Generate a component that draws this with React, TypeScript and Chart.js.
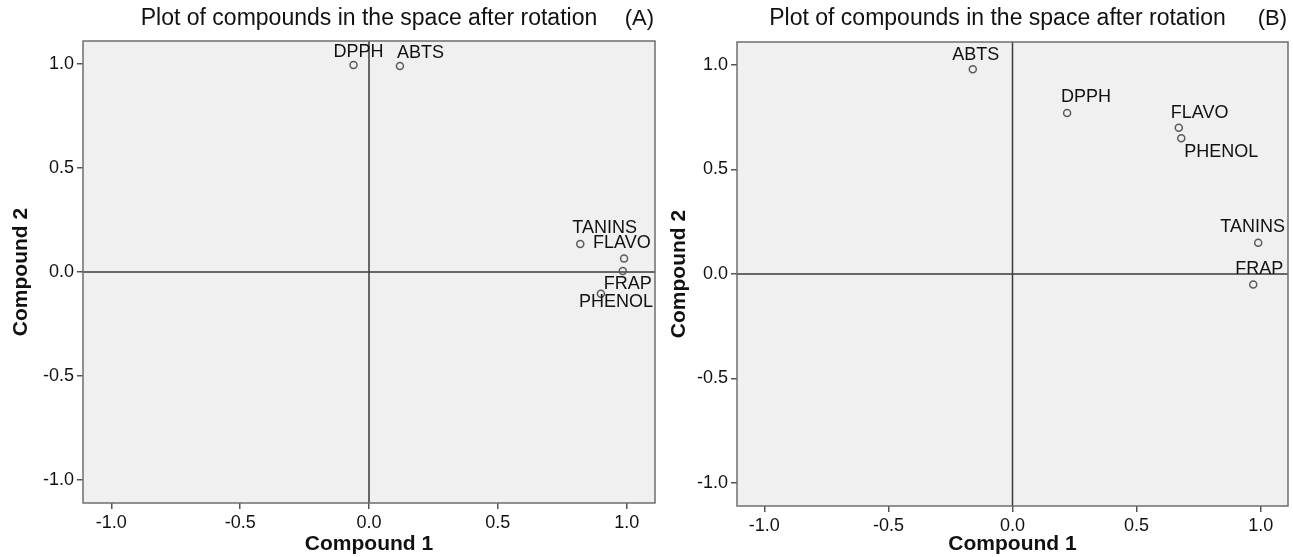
import React, { useEffect, useRef } from "react";
import { Chart, registerables } from "chart.js";

Chart.register(...registerables);

// ---- data ----
const namesA = ["DPPH", "ABTS", "TANINS", "FLAVO", "FRAP", "PHENOL"];
const compound1A = [-0.06, 0.12, 0.82, 0.99, 0.985, 0.9];
const compound2A = [0.995, 0.99, 0.135, 0.065, 0.005, -0.105];

const namesB = ["ABTS", "DPPH", "FLAVO", "PHENOL", "TANINS", "FRAP"];
const compound1B = [-0.16, 0.22, 0.67, 0.68, 0.99, 0.97];
const compound2B = [0.98, 0.77, 0.7, 0.65, 0.15, -0.05];

const tickValues = [-1.0, -0.5, 0.0, 0.5, 1.0];
const chartTitle = "Plot of compounds in the space after rotation";
const xTitle = "Compound 1";
const yTitle = "Compound 2";

// label placement (pixel offsets from the marker), kept apart from the data
const placeA: Record<string, [number, number, CanvasTextAlign]> = {
  DPPH: [5, -13, "center"],
  ABTS: [-3, -13, "left"],
  TANINS: [-8, -16, "left"],
  FLAVO: [-31, -15, "left"],
  FRAP: [-19, 13, "left"],
  PHENOL: [-22, 8, "left"],
};
const placeB: Record<string, [number, number, CanvasTextAlign]> = {
  ABTS: [3, -14, "center"],
  DPPH: [-6, -16, "left"],
  FLAVO: [-8, -15, "left"],
  PHENOL: [3, 14, "left"],
  TANINS: [-38, -16, "left"],
  FRAP: [-18, -15, "left"],
};

const FONT = "'Liberation Sans', Arial, sans-serif";

const panelPlugin = {
  id: "panel",
  beforeDraw(chart: any) {
    const { ctx, chartArea: a } = chart;
    ctx.save();
    ctx.fillStyle = "#f0f0f0";
    ctx.fillRect(a.left, a.top, a.right - a.left, a.bottom - a.top);
    ctx.restore();
  },
  beforeDatasetsDraw(chart: any) {
    const { ctx, chartArea: a, scales } = chart;
    const x0 = scales.x.getPixelForValue(0);
    const y0 = scales.y.getPixelForValue(0);
    ctx.save();
    ctx.strokeStyle = "#3a3a3a";
    ctx.lineWidth = 1.5;
    ctx.beginPath();
    ctx.moveTo(x0, a.top);
    ctx.lineTo(x0, a.bottom);
    ctx.moveTo(a.left, y0);
    ctx.lineTo(a.right, y0);
    ctx.stroke();
    ctx.restore();
  },
  afterDraw(chart: any, _args: any, opts: any) {
    const { ctx, chartArea: a, scales } = chart;
    ctx.save();
    ctx.strokeStyle = "#6e6e6e";
    ctx.lineWidth = 1.5;
    ctx.strokeRect(a.left, a.top, a.right - a.left, a.bottom - a.top);

    ctx.fillStyle = "#111";
    ctx.textBaseline = "middle";
    ctx.font = `23px ${FONT}`;
    ctx.textAlign = "center";
    ctx.fillText(opts.title, (a.left + a.right) / 2 + opts.titleDx, opts.titleY);
    ctx.font = `22px ${FONT}`;
    ctx.textAlign = "right";
    ctx.fillText(opts.tag, a.right - 1, opts.titleY);

    ctx.font = `18px ${FONT}`;
    const names: string[] = opts.names;
    const xs: number[] = opts.xs;
    const ys: number[] = opts.ys;
    names.forEach((n, i) => {
      const px = scales.x.getPixelForValue(xs[i]);
      const py = scales.y.getPixelForValue(ys[i]);
      const p = opts.place[n];
      ctx.textAlign = p[2];
      ctx.fillText(n, px + p[0], py + p[1]);
    });
    ctx.restore();
  },
};

type PanelProps = {
  names: string[];
  xs: number[];
  ys: number[];
  place: Record<string, [number, number, CanvasTextAlign]>;
  tag: string;
  width: number;
  yAxisWidth: number;
  xAxisHeight: number;
  padRight: number;
  padTop: number;
  yTitlePad: number;
  titleDx: number;
};

function Panel(props: PanelProps) {
  const ref = useRef<HTMLCanvasElement | null>(null);
  useEffect(() => {
    if (!ref.current) return;
    const tickFont = { family: FONT, size: 18 };
    const titleFont = { family: FONT, size: 21, weight: "bold" as const };
    const chart = new Chart(ref.current, {
      type: "scatter",
      data: {
        datasets: [
          {
            data: props.xs.map((x, i) => ({ x, y: props.ys[i] })),
            pointRadius: 3.5,
            pointHoverRadius: 3.5,
            pointBorderWidth: 1.5,
            pointBorderColor: "#5a5a5a",
            pointBackgroundColor: "rgba(0,0,0,0)",
            showLine: false,
          },
        ],
      },
      options: {
        responsive: false,
        animation: false,
        layout: {
          padding: { left: 0, right: props.padRight, top: props.padTop, bottom: 0 },
        },
        plugins: {
          legend: { display: false },
          tooltip: { enabled: false },
          title: { display: false },
          panel: {
            title: chartTitle,
            tag: props.tag,
            titleY: 19,
            titleDx: props.titleDx,
            names: props.names,
            xs: props.xs,
            ys: props.ys,
            place: props.place,
          },
        } as any,
        scales: {
          x: {
            type: "linear",
            min: -1.11,
            max: 1.11,
            afterBuildTicks: (s: any) => {
              s.ticks = tickValues.map((v) => ({ value: v }));
            },
            afterFit: (s: any) => {
              s.height = props.xAxisHeight;
            },
            ticks: {
              font: tickFont,
              color: "#111",
              padding: 3,
              maxRotation: 0,
              callback: (v: any) => Number(v).toFixed(1),
            },
            grid: {
              display: true,
              drawOnChartArea: false,
              drawTicks: true,
              tickLength: 6,
              color: "#555",
              lineWidth: 1.5,
            },
            border: { display: false },
            title: {
              display: true,
              text: xTitle,
              font: titleFont,
              color: "#111",
              padding: { top: 0, bottom: 0 },
            },
          },
          y: {
            type: "linear",
            min: -1.11,
            max: 1.11,
            afterBuildTicks: (s: any) => {
              s.ticks = tickValues.map((v) => ({ value: v }));
            },
            afterFit: (s: any) => {
              s.width = props.yAxisWidth;
            },
            ticks: {
              font: tickFont,
              color: "#111",
              padding: 3,
              callback: (v: any) => Number(v).toFixed(1),
            },
            grid: {
              display: true,
              drawOnChartArea: false,
              drawTicks: true,
              tickLength: 6,
              color: "#555",
              lineWidth: 1.5,
            },
            border: { display: false },
            title: {
              display: true,
              text: yTitle,
              font: titleFont,
              color: "#111",
              padding: { top: props.yTitlePad, bottom: 0 },
            },
          },
        },
      },
      plugins: [panelPlugin as any],
    });
    return () => chart.destroy();
  }, []);
  return (
    <canvas
      ref={ref}
      width={props.width}
      height={557}
      style={{ display: "block", width: props.width, height: 557 }}
    />
  );
}

export default function App() {
  return (
    <div
      style={{
        position: "fixed",
        left: 0,
        top: 0,
        width: 1293,
        height: 557,
        background: "#fff",
        display: "flex",
      }}
    >
      <Panel
        names={namesA}
        xs={compound1A}
        ys={compound2A}
        place={placeA}
        tag="(A)"
        width={660}
        yAxisWidth={83}
        xAxisHeight={54}
        padRight={5}
        padTop={41}
        yTitlePad={9}
        titleDx={0}
      />
      <Panel
        names={namesB}
        xs={compound1B}
        ys={compound2B}
        place={placeB}
        tag="(B)"
        width={633}
        yAxisWidth={77}
        xAxisHeight={51}
        padRight={2}
        padTop={42}
        yTitlePad={7}
        titleDx={-15}
      />
    </div>
  );
}
